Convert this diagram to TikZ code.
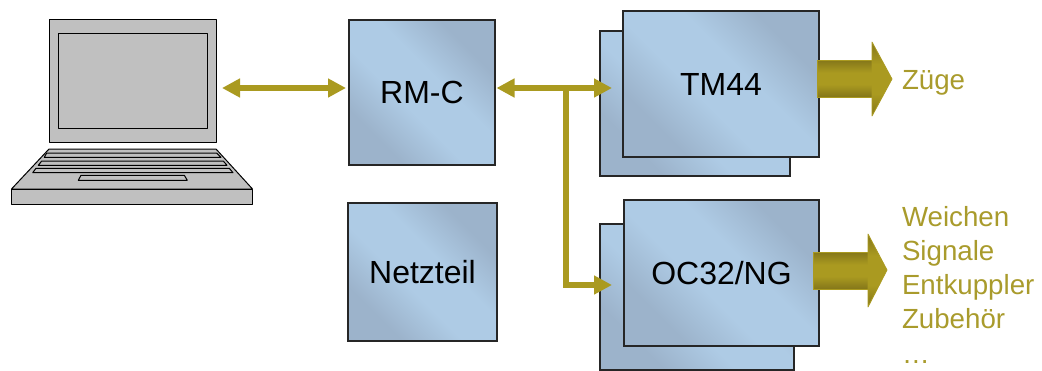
\documentclass[tikz,border=0pt]{standalone}
\usepackage{fontspec}
\setmainfont{Liberation Sans}
\usetikzlibrary{arrows.meta,calc}
\definecolor{gold}{HTML}{AA9A20}
\definecolor{goldtext}{HTML}{A99B2C}
\definecolor{golddark}{HTML}{84761A}
\definecolor{boxlight}{HTML}{AECBE5}
\definecolor{boxdark}{HTML}{9CB3CB}
\definecolor{laptop}{HTML}{C0C0C0}
\pgfdeclareverticalshading{headshade}{100bp}{color(0bp)=(golddark); color(25bp)=(golddark); color(40bp)=(gold); color(60bp)=(gold); color(75bp)=(golddark); color(100bp)=(golddark)}
\pgfdeclareverticalshading{shaftshade}{100bp}{color(0bp)=(golddark); color(25bp)=(golddark); color(42bp)=(gold); color(58bp)=(gold); color(75bp)=(golddark); color(100bp)=(golddark)}
\pgfdeclareverticalshading{boxshade}{100bp}{color(0bp)=(boxdark); color(28bp)=(boxdark); color(43bp)=(boxlight); color(57bp)=(boxlight); color(72bp)=(boxdark); color(100bp)=(boxdark)}
\tikzset{
  blockbox/.style={draw=black!85,line width=1.3pt,inner sep=0pt,outer sep=0pt,
    shade,shading=boxshade,shading angle=-45,
    font=\fontsize{32}{38}\selectfont,text=black},
  bus/.style={draw=gold,line width=6pt},
  busboth/.style={bus,{Triangle[length=18pt,width=18pt]}-{Triangle[length=18pt,width=18pt]}},
  busto/.style={bus,-{Triangle[length=18pt,width=18pt]}},
  busfrom/.style={bus,{Triangle[length=18pt,width=18pt]}-},
  lappart/.style={draw=black,line width=1pt,fill=laptop,line join=round},
  goldlabel/.style={text=goldtext,font=\fontsize{27.7}{34.3}\selectfont,inner sep=0pt,outer sep=0pt},
  bigshaft/.style={shading=shaftshade,draw=gold,line width=0.8pt},
  bighead/.style={shading=headshade,draw=gold,line width=0.8pt,line join=round},
}
\begin{document}
\begin{tikzpicture}[x=1pt,y=-1pt]
\useasboundingbox (0,0) rectangle (1042,370);
% laptop
\path[lappart] (49.5,19.5) rectangle (216.5,142);
\path[lappart] (58.5,33) rectangle (207.5,128.5);
\path[lappart] (49,149) -- (216,149) -- (252.5,189) -- (11.5,189) -- cycle;
\path[lappart] (11.5,189) rectangle (252.5,204);
\path[lappart] (46.7,153) -- (216.7,153) -- (221,157.3) -- (44.3,157.3) -- cycle;
\path[lappart] (41.7,161) -- (223.3,161) -- (227,165.3) -- (38.3,165.3) -- cycle;
\path[lappart] (36,168.3) -- (229.3,168.3) -- (233,172.7) -- (32.7,172.7) -- cycle;
\path[lappart] (81,175.3) -- (184.3,175.3) -- (187.3,180.3) -- (78.3,180.3) -- cycle;
\coordinate (lapport) at (222,88);
% boxes
\node[blockbox,minimum width=146pt,minimum height=145pt] (rmc) at (422,92.5) {RM-C};
\node[blockbox,minimum width=149pt,minimum height=138pt] (netz) at (422.5,272) {Netzteil};
\node[blockbox,minimum width=190pt,minimum height=145pt] (tmback) at (695,103.5) {};
\node[blockbox,minimum width=196pt,minimum height=146pt] (tm) at (721,84) {TM44};
\node[blockbox,minimum width=194pt,minimum height=146pt] (ocback) at (697,297) {};
\node[blockbox,minimum width=195pt,minimum height=146pt] (oc) at (721.5,273) {OC32/NG};
% connectors
\coordinate (seam) at (542,88);
\coordinate (branch) at (566,88);
\coordinate (tmin) at (612,88);
\coordinate (ocin) at (612,285);
\draw[busboth,shorten >=3pt] (lapport) -- (rmc.west |- lapport);
\draw[busfrom,shorten <=1.5pt] (rmc.east |- seam) -- (seam);
\draw[busto] (seam) -- (tmin);
\draw[busto] (branch) |- (ocin);
% big arrows
\node[goldlabel,anchor=base west] (zuege) at (902,89) {Züge};
\node[goldlabel,anchor=north west,align=left] (list) at (902,206) {Weichen\\Signale\\Entkuppler\\Zubehör\\…};
\shade[bigshaft] (817,60) rectangle (872,97);
\shade[bighead] (872,42) -- (892,79) -- (872,116) -- cycle;
\shade[bigshaft] (813,252) rectangle (868,289);
\shade[bighead] (868,234) -- (887,270) -- (868,307) -- cycle;
\end{tikzpicture}
\end{document}
